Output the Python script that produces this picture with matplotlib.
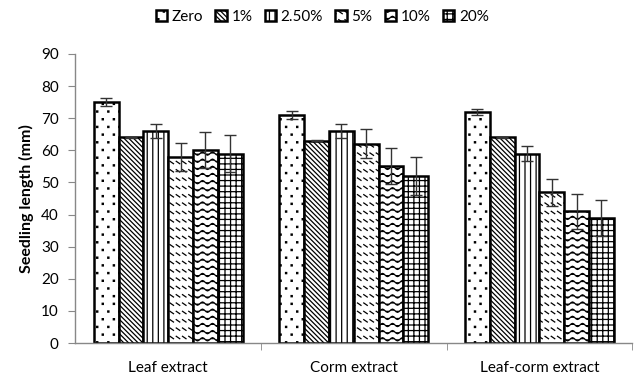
import numpy as np
import matplotlib
matplotlib.use("Agg")
import matplotlib.pyplot as plt
from matplotlib import hatch as mhatch
from matplotlib.path import Path
from matplotlib.patches import Patch


# extra hatch styles: '~' wavy lines, 'd' rows of short slanted dashes,
# ':' sparse staggered tiny dots
class WaveHatch(mhatch.HatchPatternBase):
    def __init__(self, hatch, density):
        self.num_lines = int(hatch.count('~') * 7)
        self.steps = 80
        self.num_vertices = self.num_lines * (self.steps + 1)

    def set_vertices_and_codes(self, vertices, codes):
        x = np.linspace(0, 1, self.steps + 1)
        k = 0
        for i in range(self.num_lines):
            y0 = (i + 0.5) / self.num_lines
            y = y0 + 0.016 * np.sin(2 * np.pi * 10 * x)
            vertices[k:k + self.steps + 1, 0] = x
            vertices[k:k + self.steps + 1, 1] = y
            codes[k] = Path.MOVETO
            codes[k + 1:k + self.steps + 1] = Path.LINETO
            k += self.steps + 1


class DashHatch(mhatch.HatchPatternBase):
    def __init__(self, hatch, density):
        self.num_rows = int(hatch.count('d') * density)
        self.per_row = 16
        self.num_vertices = self.num_rows * self.per_row * 2

    def set_vertices_and_codes(self, vertices, codes):
        k = 0
        for i in range(self.num_rows):
            y = (i + 0.5) / self.num_rows
            for j in range(self.per_row):
                x = (j + 0.2) / self.per_row
                vertices[k] = (x, y + 0.012)
                vertices[k + 1] = (x + 0.035, y - 0.012)
                codes[k] = Path.MOVETO
                codes[k + 1] = Path.LINETO
                k += 2


class DotHatch(mhatch.HatchPatternBase):
    def __init__(self, hatch, density):
        n = hatch.count(':')
        self.rows = 13 * n
        self.cols = 9 * n
        self.num_vertices = self.rows * self.cols * 5

    def set_vertices_and_codes(self, vertices, codes):
        s = 0.006
        k = 0
        for r in range(self.rows):
            y = (r + 0.5) / self.rows
            for c in range(self.cols):
                x = (c + 0.25 + 0.5 * (r % 2)) / self.cols
                vertices[k:k + 5] = [(x - s, y - s), (x + s, y - s),
                                     (x + s, y + s), (x - s, y + s),
                                     (x - s, y - s)]
                codes[k] = Path.MOVETO
                codes[k + 1:k + 4] = Path.LINETO
                codes[k + 4] = Path.CLOSEPOLY
                k += 5


mhatch._hatch_types.extend([WaveHatch, DashHatch, DotHatch])

plt.rcParams['font.family'] = ['Lato', 'DejaVu Sans']
plt.rcParams['hatch.linewidth'] = 0.9

groups = ['Leaf extract', 'Corm extract', 'Leaf-corm extract']
doses = ['Zero', '1%', '2.50%', '5%', '10%', '20%']

# seedling length (mm), one list per dose: leaf, corm, leaf-corm
zero = [75, 71, 72]
d1 = [64, 63, 64]
d2_5 = [66, 66, 59]
d5 = [58, 62, 47]
d10 = [60, 55, 41]
d20 = [59, 52, 39]
values = [zero, d1, d2_5, d5, d10, d20]

zero_err = [1.2, 1.2, 1.0]
d1_err = [0.2, 0.2, 0.2]
d2_5_err = [2.3, 2.3, 2.2]
d5_err = [4.4, 4.5, 4.2]
d10_err = [5.6, 5.6, 5.5]
d20_err = [5.8, 5.8, 5.6]
errors = [zero_err, d1_err, d2_5_err, d5_err, d10_err, d20_err]

hatches = [':', '\\' * 7, '|||', 'dd', '~~', '+++']

fig = plt.figure(figsize=(6.38, 3.77), dpi=100)
ax = fig.add_axes([0.118, 0.09, 0.873, 0.767])

x = np.arange(len(groups))
w = 0.1336
for i, (vals, errs) in enumerate(zip(values, errors)):
    pos = x + (i - 2.5) * w
    ax.bar(pos, vals, width=w, color='white', edgecolor='black',
           linewidth=1.8, hatch=hatches[i], zorder=2)
    ax.errorbar(pos, vals, yerr=errs, fmt='none', ecolor='#333333',
                elinewidth=1, capsize=4, capthick=1, zorder=3)

ax.set_xlim(-0.5, 2.5)
ax.set_ylim(0, 90)
ax.set_yticks(np.arange(0, 91, 10))
ax.set_xticks(x)
ax.set_xticklabels(groups, fontsize=11)
ax.set_xticks([0.5, 1.5, 2.5], minor=True)
ax.tick_params(axis='x', which='major', length=0, pad=13)
ax.tick_params(axis='x', which='minor', length=5, color='#888888')
ax.tick_params(axis='y', length=5, color='#888888', labelsize=11, pad=7)
ax.set_ylabel('Seedling length (mm)', fontsize=11.5, fontweight='bold',
              labelpad=5)

for s in ['top', 'right']:
    ax.spines[s].set_visible(False)
for s in ['left', 'bottom']:
    ax.spines[s].set_color('#888888')
    ax.spines[s].set_linewidth(1)

handles = [Patch(facecolor='white', edgecolor='black', linewidth=1.8,
                 hatch=h, label=d) for h, d in zip(hatches, doses)]
fig.legend(handles=handles, loc='upper center', bbox_to_anchor=(0.505, 1.01),
           ncol=6, frameon=False, fontsize=11, handlelength=0.75,
           handleheight=0.75, handletextpad=0.3, columnspacing=0.8)

fig.savefig('out.png', dpi=100)
